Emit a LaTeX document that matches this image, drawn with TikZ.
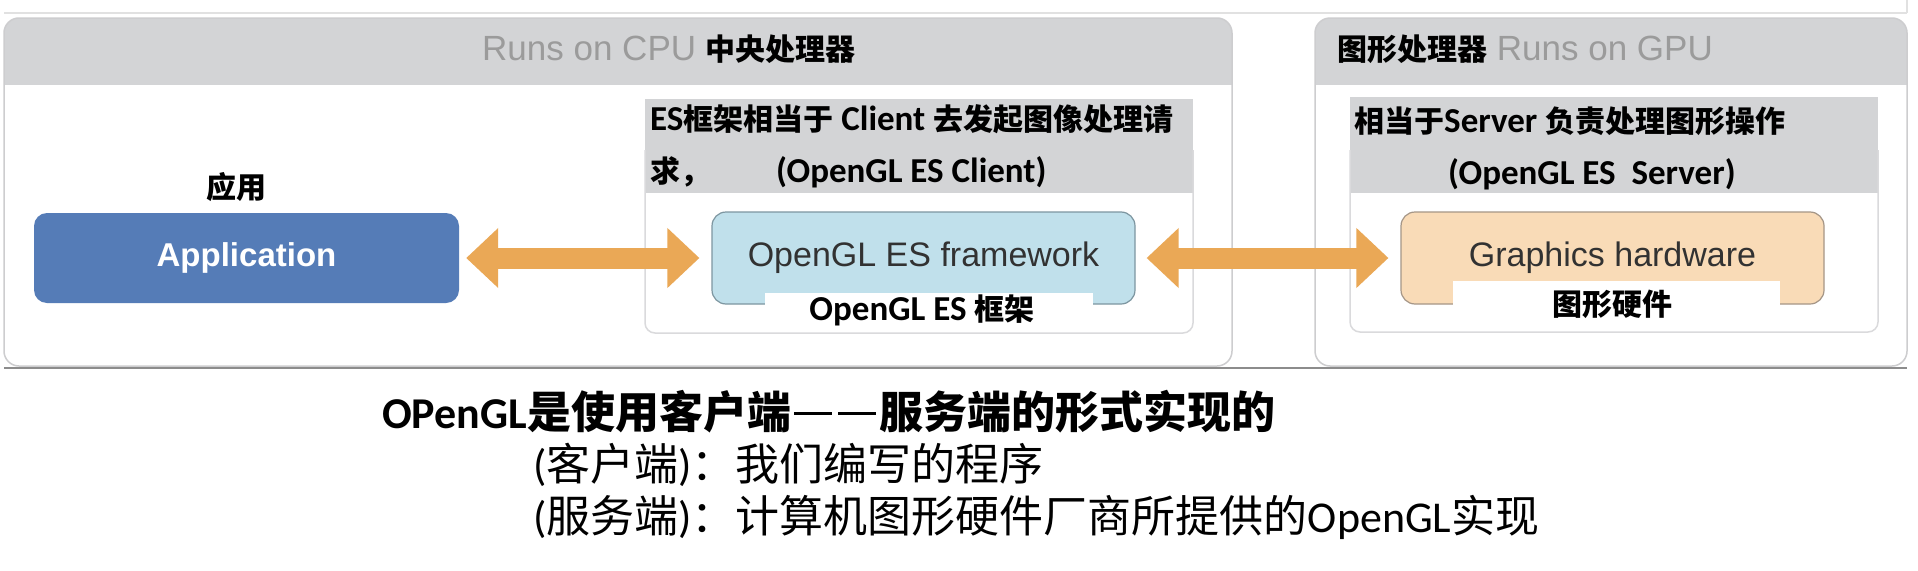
\documentclass[tikz,border=0pt]{standalone}
\usepackage{fontspec}
\setmainfont{Liberation Sans}
\newfontfamily\carl{Carlito}
\newfontfamily\cjkf{Noto Sans CJK SC}
\usetikzlibrary{arrows.meta}
\definecolor{hdr}{RGB}{211,212,214}
\definecolor{panelline}{RGB}{205,205,207}
\definecolor{innerline}{RGB}{218,218,220}
\definecolor{appblue}{RGB}{85,124,183}
\definecolor{arroworange}{RGB}{234,168,86}
\definecolor{fwblue}{RGB}{192,224,235}
\definecolor{fwline}{RGB}{125,150,160}
\definecolor{ghpeach}{RGB}{249,219,183}
\definecolor{ghline}{RGB}{165,150,135}
\definecolor{runsgray}{RGB}{155,155,155}
\definecolor{textdark}{RGB}{50,50,50}
\definecolor{rulegray}{RGB}{140,140,140}
\definecolor{topgray}{RGB}{225,225,225}
\newcommand{\zhb}[1]{{\cjkf\bfseries\fontsize{30}{36}\selectfont #1}}
\newcommand{\zhbig}[1]{{\cjkf\fontsize{44}{52}\selectfont #1}}
\newcommand{\zhbigb}[1]{{\cjkf\bfseries\fontsize{44}{52}\selectfont #1}}
\newcommand{\cdash}{\makebox[44pt]{\rule[13pt]{38pt}{3.5pt}}}
\begin{document}
\begin{tikzpicture}[x=1pt,y=-1pt,
  hwbox/.style={minimum width=423pt, minimum height=92pt, inner sep=0pt, rounded corners=14pt, line width=1.2pt, font=\fontsize{34}{40}\selectfont, text=textdark},
  appbox/.style={fill=appblue, minimum width=425pt, minimum height=90pt, inner sep=0pt, rounded corners=13pt, text=white, font=\bfseries\fontsize{33}{40}\selectfont},
  biarrow/.style={draw=arroworange, line width=21pt, {Triangle[length=32pt,width=58pt]}-{Triangle[length=32pt,width=58pt]}},
  zhlabel/.style={inner sep=0pt, font=\cjkf\bfseries\fontsize{30}{36}\selectfont},
  cliline/.style={anchor=base west, inner sep=0pt, font=\carl\bfseries\fontsize{35}{42}\selectfont},
  hdrtext/.style={anchor=base west, inner sep=0pt, font=\fontsize{35}{42}\selectfont},
  bottomline/.style={anchor=base west, inner sep=0pt, font=\carl\fontsize{44}{52}\selectfont},
  outerline/.style={draw=panelline, line width=1.5pt, rounded corners=15pt},
  innerpanel/.style={draw=innerline, line width=1.5pt, rounded corners=10pt}
]
\useasboundingbox (0,0) rectangle (1918,570);
\fill[white] (0,0) rectangle (1918,570);

% screenshot edge lines
\draw[topgray, line width=1.5pt] (4,13) -- (1907,13);
\draw[topgray, line width=1.5pt] (1907,0) -- (1907,13);

% CPU panel
\fill[white, rounded corners=15pt] (4,18) rectangle (1232,366);
\begin{scope}
  \clip (0,0) rectangle (1918,84);
  \fill[hdr, rounded corners=15pt] (4,18) rectangle (1232,366);
\end{scope}
\draw[outerline] (4,18) rectangle (1232,366);

% GPU panel
\fill[white, rounded corners=15pt] (1315,18) rectangle (1907,366);
\begin{scope}
  \clip (0,0) rectangle (1918,84);
  \fill[hdr, rounded corners=15pt] (1315,18) rectangle (1907,366);
\end{scope}
\draw[outerline] (1315,18) rectangle (1907,366);

% bottom rule
\draw[rulegray, line width=2.5pt] (4,368) -- (1907,368);

% header texts
\node[hdrtext] (cpuhdr) at (482,60) {{\color{runsgray}Runs on CPU} \zhb{中央处理器}};
\node[hdrtext] (gpuhdr) at (1337,60) {\zhb{图形处理器} {\color{runsgray}Runs on GPU}};

% ES client panel
\fill[white, rounded corners=10pt] (645,99) rectangle (1193,333);
\fill[hdr] (645,99) rectangle (1193,193);
\draw[innerpanel] (645,150) -- (645,333) -- (1193,333) -- (1193,150);
\node[cliline] (esl1) at (650,130) {ES\zhb{框架相当于} Client \zhb{去发起图像处理请}};
\node[cliline] (esl2) at (650,182) {\zhb{求，}\hspace{66pt}(OpenGL ES Client)};

% Server panel
\fill[white, rounded corners=10pt] (1350,97) rectangle (1878,332);
\fill[hdr] (1350,97) rectangle (1878,193);
\draw[innerpanel] (1350,150) -- (1350,332) -- (1878,332) -- (1878,150);
\node[cliline] (svl1) at (1354,132) {\zhb{相当于}Server \zhb{负责处理图形操作}};
\node[cliline] (svl2) at (1448,184) {(OpenGL ES\ \ Server)};

% Application
\node[zhlabel] (applbl) at (236,187) {应用};
\node[appbox] (app) at (246.5,258) {Application};

% OpenGL ES framework
\node[hwbox, fill=fwblue, draw=fwline] (fw) at (923.5,258) {OpenGL ES framework};
\fill[white] (765,293) rectangle (1093,306);
\node[inner sep=0pt, font=\carl\bfseries\fontsize{35}{42}\selectfont] (fwlbl) at (922,310) {OpenGL ES \zhb{框架}};

% Graphics hardware
\node[hwbox, fill=ghpeach, draw=ghline] (gh) at (1612.5,258) {Graphics hardware};
\fill[white] (1453,281) rectangle (1780,306);
\node[zhlabel] (ghlbl) at (1612,304) {图形硬件};

% arrows
\draw[biarrow, shorten <=7pt, shorten >=12pt] (app.east) -- (fw.west);
\draw[biarrow, shorten <=11pt, shorten >=12pt] (fw.east) -- (gh.west);

% bottom texts
\node[bottomline, font=\carl\bfseries\fontsize{44}{52}\selectfont] (bt1) at (382,428) {OPenGL\zhbigb{是使用客户端\cdash\cdash 服务端的形式实现的}};
\node[bottomline] (bt2) at (533,480) {(\zhbig{客户端})\zhbig{：我们编写的程序}};
\node[bottomline] (bt3) at (533,532) {(\zhbig{服务端})\zhbig{：计算机图形硬件厂商所提供的}OpenGL\zhbig{实现}};
\end{tikzpicture}
\end{document}
